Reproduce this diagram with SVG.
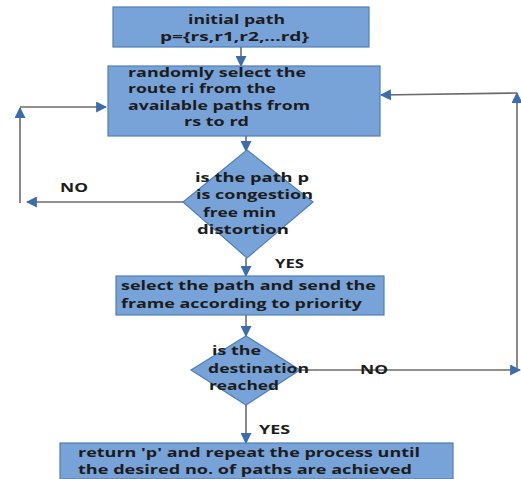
<svg xmlns="http://www.w3.org/2000/svg" width="521" height="479" viewBox="0 0 521 479">
<defs>
<style>
.box{fill:#78a3d8;stroke:#4f7fb8;stroke-width:1.2}
.t{font-family:"Open Sans","Liberation Sans",sans-serif;font-weight:bold;font-size:12.5px;fill:#1c1c1c}
.ln{fill:none;stroke:#6b6b6b;stroke-width:1.6}
.ah{fill:#3b6cae}
</style>
<marker id="arr" viewBox="0 0 10 10" refX="9" refY="5" markerWidth="11" markerHeight="11" markerUnits="userSpaceOnUse" orient="auto">
<path d="M0,0 L10,5 L0,10 Z" class="ah"/>
</marker>
</defs>
<rect width="521" height="479" fill="#ffffff"/>
<g id="connectors">
<line class="ln" x1="241" y1="47" x2="241" y2="66" marker-end="url(#arr)"/>
<line class="ln" x1="246" y1="136" x2="246" y2="151" marker-end="url(#arr)"/>
<polyline class="ln" points="183,202 27,202" marker-end="url(#arr)"/>
<line class="ln" x1="20" y1="203" x2="20" y2="108" marker-end="url(#arr)"/>
<polyline class="ln" points="20,107 106,107" marker-end="url(#arr)"/>
<line class="ln" x1="246" y1="258" x2="246" y2="276" marker-end="url(#arr)"/>
<line class="ln" x1="246" y1="315" x2="246" y2="336" marker-end="url(#arr)"/>
<polyline class="ln" points="300,370 520,370" marker-end="url(#arr)"/>
<line class="ln" x1="517" y1="370" x2="517" y2="93" marker-end="url(#arr)"/>
<polyline class="ln" points="517,93 381,95" marker-end="url(#arr)"/>
<line class="ln" x1="246" y1="405" x2="246" y2="443" marker-end="url(#arr)"/>
<text class="t" x="60" y="192" textLength="28" lengthAdjust="spacingAndGlyphs">NO</text>
<text class="t" x="275" y="268" textLength="29" lengthAdjust="spacingAndGlyphs">YES</text>
<text class="t" x="360" y="374" textLength="28" lengthAdjust="spacingAndGlyphs">NO</text>
<text class="t" x="259" y="434" textLength="31" lengthAdjust="spacingAndGlyphs">YES</text>
</g>
<g id="n1">
<rect class="box" x="113" y="7" width="256" height="40"/>
<text class="t" x="188" y="24" textLength="97" lengthAdjust="spacingAndGlyphs">initial path</text>
<text class="t" x="160" y="41" textLength="149" lengthAdjust="spacingAndGlyphs">p={rs,r1,r2,...rd}</text>
</g>
<g id="n2">
<rect class="box" x="108" y="66" width="272" height="70"/>
<text class="t" x="128" y="77" textLength="178" lengthAdjust="spacingAndGlyphs">randomly select the</text>
<text class="t" x="128" y="93" textLength="148" lengthAdjust="spacingAndGlyphs">route ri from the</text>
<text class="t" x="128" y="110" textLength="182" lengthAdjust="spacingAndGlyphs">available paths from</text>
<text class="t" x="184" y="126" textLength="65" lengthAdjust="spacingAndGlyphs">rs to rd</text>
</g>
<g id="n3">
<polygon class="box" points="247,150 313,202 247,258 183,202"/>
<text class="t" x="195" y="182" textLength="114" lengthAdjust="spacingAndGlyphs">is the path p</text>
<text class="t" x="196" y="199" textLength="117" lengthAdjust="spacingAndGlyphs">is congestion</text>
<text class="t" x="203" y="217" textLength="73" lengthAdjust="spacingAndGlyphs">free min</text>
<text class="t" x="197" y="234" textLength="92" lengthAdjust="spacingAndGlyphs">distortion</text>
</g>
<g id="n4">
<rect class="box" x="116" y="276" width="268" height="39"/>
<text class="t" x="121" y="290" textLength="255" lengthAdjust="spacingAndGlyphs">select the path and send the</text>
<text class="t" x="121" y="308" textLength="241" lengthAdjust="spacingAndGlyphs">frame according to priority</text>
</g>
<g id="n5">
<polygon class="box" points="246,336 300,370 246,405 191,370"/>
<text class="t" x="212" y="355" textLength="49" lengthAdjust="spacingAndGlyphs">is the</text>
<text class="t" x="208" y="373" textLength="101" lengthAdjust="spacingAndGlyphs">destination</text>
<text class="t" x="209" y="390" textLength="70" lengthAdjust="spacingAndGlyphs">reached</text>
</g>
<g id="n6">
<rect class="box" x="60" y="443" width="393" height="36"/>
<text class="t" x="78" y="457" textLength="342" lengthAdjust="spacingAndGlyphs">return 'p' and repeat the process until</text>
<text class="t" x="78" y="474" textLength="334" lengthAdjust="spacingAndGlyphs">the desired no. of paths are achieved</text>
</g>
</svg>
